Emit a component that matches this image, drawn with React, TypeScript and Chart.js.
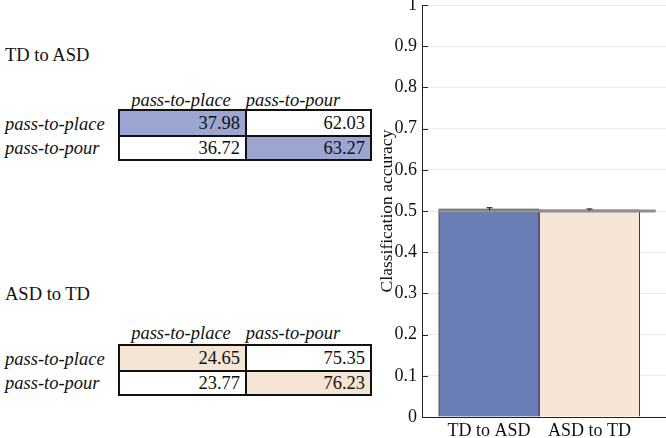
import React, { useEffect, useRef } from "react";
import { Chart, registerables } from "chart.js";

Chart.register(...registerables);

// ---------- data ----------
const groups = ["TD to ASD", "ASD to TD"];
const accuracy = [0.505, 0.503];
const accuracyError = [0.003, 0.002];
const chanceLevel = 0.5;
const chanceSpan = [0.5, 2.66];
const xRange = [0.334, 2.762];
const yTicks = [0, 0.1, 0.2, 0.3, 0.4, 0.5, 0.6, 0.7, 0.8, 0.9, 1];
const classLabels = ["pass-to-place", "pass-to-pour"];
const tdToAsdMatrix = [
  [37.98, 62.03],
  [36.72, 63.27],
];
const asdToTdMatrix = [
  [24.65, 75.35],
  [23.77, 76.23],
];

// ---------- styles ----------
const FONT = "'Liberation Serif', 'Times New Roman', Times, serif";
const TEXT = "#111111";
const barColors = ["#6b7db7", "#f6e5d6"];
const cellColors = ["#9ca6d0", "#f4e5d4"];

const tableFont = 18.5;
const ASC = 0.8375;
const colEdges = [119, 246, 371];
const headerCenters = [181, 293];

function Text(props: {
  x: number;
  baseline: number;
  size: number;
  italic?: boolean;
  width?: number;
  align?: "left" | "center" | "right";
  children: React.ReactNode;
}) {
  const { x, baseline, size, italic, width, align, children } = props;
  return (
    <div
      style={{
        position: "absolute",
        left: x,
        top: baseline - ASC * size,
        width: width,
        fontSize: size,
        lineHeight: `${size}px`,
        fontStyle: italic ? "italic" : "normal",
        whiteSpace: "nowrap",
        textAlign: align || "left",
      }}
    >
      {children}
    </div>
  );
}

function Matrix(props: {
  title: string;
  values: number[][];
  highlight: string;
  titleBaseline: number;
  headerBaseline: number;
  tableTop: number;
}) {
  const { title, values, highlight, titleBaseline, headerBaseline, tableTop } = props;
  const rowEdges = [tableTop, tableTop + 26, tableTop + 50];
  const cells: React.ReactNode[] = [];
  values.forEach((row, r) => {
    row.forEach((v, c) => {
      const w = colEdges[c + 1] - colEdges[c] + 2;
      const h = rowEdges[r + 1] - rowEdges[r] + 2;
      cells.push(
        <div
          key={`c${r}${c}`}
          style={{
            position: "absolute",
            left: colEdges[c] - 1,
            top: rowEdges[r] - 1,
            width: w,
            height: h,
            boxSizing: "border-box",
            border: "2px solid #111",
            background: r === c ? highlight : "#ffffff",
            display: "flex",
            alignItems: "center",
            justifyContent: "flex-end",
            paddingRight: 5,
            fontSize: tableFont,
            lineHeight: `${tableFont}px`,
          }}
        >
          {v.toFixed(2)}
        </div>
      );
    });
  });
  return (
    <>
      <Text x={5} baseline={titleBaseline} size={tableFont}>
        {title}
      </Text>
      {classLabels.map((lab, c) => (
        <Text
          key={`h${c}`}
          x={headerCenters[c] - 100}
          width={200}
          align="center"
          baseline={headerBaseline}
          size={tableFont}
          italic
        >
          {lab}
        </Text>
      ))}
      {classLabels.map((lab, r) => (
        <Text
          key={`r${r}`}
          x={5}
          baseline={rowEdges[r] + (r === 0 ? 20 : 18)}
          size={tableFont}
          italic
        >
          {lab}
        </Text>
      ))}
      {cells}
    </>
  );
}

const overlayPlugin = {
  id: "overlay",
  afterDatasetsDraw(chart: any) {
    const { ctx, scales } = chart;
    const xs = scales.x;
    const ys = scales.y;
    ctx.save();
    ctx.strokeStyle = "#111";
    ctx.lineWidth = 1;
    accuracy.forEach((a, i) => {
      const x = Math.round(xs.getPixelForValue(i + 1)) + 0.5;
      const y1 = ys.getPixelForValue(a - accuracyError[i]);
      const y2 = ys.getPixelForValue(a + accuracyError[i]);
      ctx.beginPath();
      ctx.moveTo(x, y1);
      ctx.lineTo(x, y2);
      ctx.moveTo(x - 3, y2);
      ctx.lineTo(x + 3, y2);
      ctx.stroke();
    });
    const left = chart.chartArea.left;
    ctx.strokeStyle = "#222";
    yTicks.forEach((t) => {
      const y = Math.round(ys.getPixelForValue(t)) + 0.5;
      ctx.beginPath();
      ctx.moveTo(left, y);
      ctx.lineTo(left + 6, y);
      ctx.stroke();
    });
    ctx.restore();
  },
};

export default function App() {
  const ref = useRef<HTMLCanvasElement | null>(null);

  useEffect(() => {
    if (!ref.current) return;
    const font = { family: FONT, size: 18 };
    const chart = new Chart(ref.current, {
      type: "bar",
      data: {
        datasets: [
          {
            type: "line",
            data: chanceSpan.map((x) => ({ x, y: chanceLevel })),
            borderColor: "#8f8f8f",
            borderWidth: 3,
            pointRadius: 0,
            order: 0,
          } as any,
          {
            type: "bar",
            data: groups.map((_, i) => ({ x: i + 1, y: accuracy[i] })),
            backgroundColor: barColors,
            borderColor: "#3c3c3c",
            borderWidth: 1,
            barPercentage: 1,
            categoryPercentage: 1,
            order: 1,
          } as any,
        ],
      },
      options: {
        animation: false,
        responsive: false,
        layout: { padding: { top: 5, right: 0, left: 0, bottom: 0 } },
        plugins: {
          legend: { display: false },
          tooltip: { enabled: false },
        },
        scales: {
          x: {
            type: "linear",
            min: xRange[0],
            max: xRange[1],
            offset: false,
            grid: { display: false, offset: false, drawTicks: false },
            border: { display: true, color: "#222", width: 1 },
            afterBuildTicks: (s: any) => {
              s.ticks = groups.map((_, i) => ({ value: i + 1 }));
            },
            ticks: {
              callback: (v: any) => groups[Math.round(v) - 1] ?? "",
              font,
              color: TEXT,
              padding: 3,
              maxRotation: 0,
              autoSkip: false,
            },
            afterFit: (s: any) => {
              s.height = 21;
              s.paddingLeft = 0;
              s.paddingRight = 0;
            },
          },
          y: {
            min: 0,
            max: 1,
            afterBuildTicks: (s: any) => {
              s.ticks = yTicks.map((v) => ({ value: v }));
            },
            grid: { color: "#ebebeb", drawTicks: false, lineWidth: 1 },
            border: { display: true, color: "#222", width: 1 },
            ticks: {
              callback: (v: any) => String(v),
              font,
              color: TEXT,
              padding: 5,
            },
            title: {
              display: true,
              text: "Classification accuracy",
              font: { family: FONT, size: 17.5 },
              color: TEXT,
              padding: { top: 17, bottom: 0 },
            },
            afterFit: (s: any) => {
              s.width = 62;
              s.paddingTop = 0;
              s.paddingBottom = 0;
            },
          },
        },
      } as any,
      plugins: [overlayPlugin],
    });
    return () => chart.destroy();
  }, []);

  return (
    <div
      style={{
        position: "fixed",
        left: 0,
        top: 0,
        width: 666,
        height: 438,
        background: "#fff",
        fontFamily: FONT,
        color: TEXT,
        overflow: "hidden",
      }}
    >
      <Matrix
        title="TD to ASD"
        values={tdToAsdMatrix}
        highlight={cellColors[0]}
        titleBaseline={61}
        headerBaseline={106}
        tableTop={110}
      />
      <Matrix
        title="ASD to TD"
        values={asdToTdMatrix}
        highlight={cellColors[1]}
        titleBaseline={300}
        headerBaseline={339}
        tableTop={345}
      />
      <canvas
        ref={ref}
        width={306}
        height={438}
        style={{ position: "absolute", left: 360, top: 0, width: 306, height: 438 }}
      />
    </div>
  );
}
